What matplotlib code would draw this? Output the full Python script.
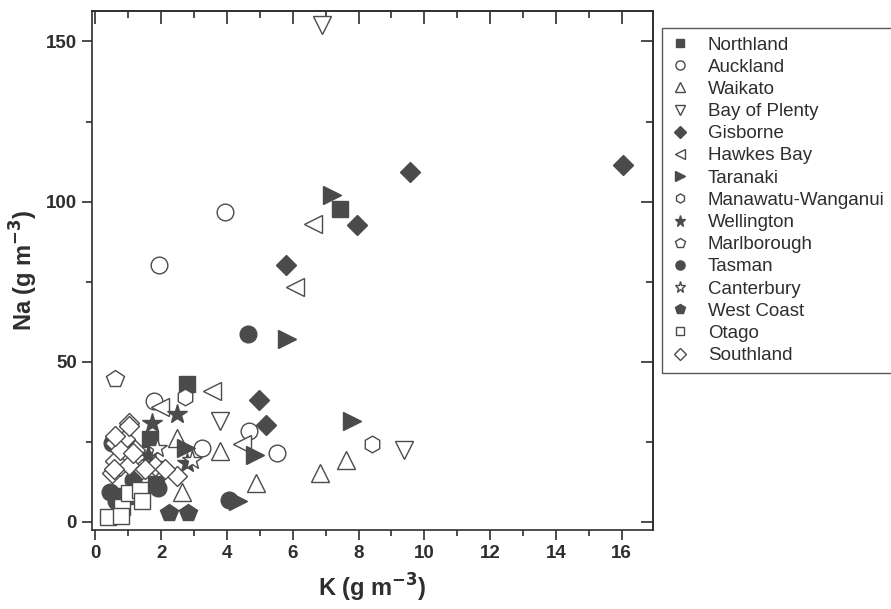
import matplotlib
matplotlib.use('Agg')
import matplotlib.pyplot as plt
from matplotlib.ticker import MultipleLocator

plt.rcParams['font.family'] = ['Liberation Sans', 'DejaVu Sans']

# K (g m-3) and Na (g m-3), per region
northland_k = [7.44, 2.78, 1.67, 1.85, 0.9]
northland_na = [97.8, 43.0, 25.8, 12.0, 8.0]
auckland_k = [3.93, 1.94, 1.77, 4.68, 5.52, 3.25]
auckland_na = [96.7, 80.3, 37.8, 28.4, 21.6, 23.0]
waikato_k = [7.61, 6.83, 4.89, 3.79, 2.48, 2.65]
waikato_na = [19.5, 15.3, 12.2, 22.1, 26.3, 9.3]
bop_k = [6.9, 9.38, 3.79]
bop_na = [155.2, 22.6, 31.5]
gisborne_k = [16.05, 9.56, 7.94, 5.8, 4.99, 5.19]
gisborne_na = [111.5, 109.3, 92.7, 80.1, 38.2, 30.3]
hawkes_k = [6.63, 6.07, 3.54, 4.45, 1.97]
hawkes_na = [93.1, 73.2, 41.0, 24.2, 35.8]
taranaki_k = [7.18, 5.82, 7.79, 4.86, 4.35, 2.75]
taranaki_na = [102.1, 57.2, 31.5, 20.8, 6.4, 23.0]
manawatu_k = [8.4, 2.73]
manawatu_na = [24.2, 38.9]
wellington_k = [2.48, 1.72, 2.78, 1.6]
wellington_na = [33.6, 31.0, 18.5, 21.0]
marlborough_k = [0.61]
marlborough_na = [44.7]
tasman_k = [4.64, 4.05, 0.5, 0.45, 0.62, 1.9, 1.15]
tasman_na = [58.8, 6.9, 24.8, 9.5, 6.5, 10.5, 13.0]
canterbury_k = [1.87, 1.82, 2.95]
canterbury_na = [23.2, 18.0, 19.5]
westcoast_k = [2.23, 2.83]
westcoast_na = [2.7, 2.7]
otago_k = [0.4, 0.81, 1.01, 1.37, 1.42, 0.78]
otago_na = [1.7, 4.8, 9.0, 10.0, 6.4, 2.0]
southland_k = [0.5, 0.76, 1.42, 1.82, 1.01, 0.61, 0.91, 1.21, 0.61, 1.01,
               1.01, 0.76, 1.16, 1.52, 0.56, 2.48, 2.12, 0.61]
southland_na = [15.3, 17.4, 16.4, 17.4, 31.0, 24.7, 25.8, 22.6, 19.0, 17.9,
                30.0, 22.6, 21.6, 16.4, 16.4, 14.3, 16.4, 26.8]

dark = '#4b4b4b'
ink = '#2e2e2e'

# name, k, na, marker, filled, size
series = [
    ('Northland', northland_k, northland_na, 's', True, 11.5),
    ('Auckland', auckland_k, auckland_na, 'o', False, 12),
    ('Waikato', waikato_k, waikato_na, '^', False, 13),
    ('Bay of Plenty', bop_k, bop_na, 'v', False, 13),
    ('Gisborne', gisborne_k, gisborne_na, 'D', True, 10.5),
    ('Hawkes Bay', hawkes_k, hawkes_na, '<', False, 13),
    ('Taranaki', taranaki_k, taranaki_na, '>', True, 13),
    ('Manawatu-Wanganui', manawatu_k, manawatu_na, 'h', False, 12),
    ('Wellington', wellington_k, wellington_na, '*', True, 15),
    ('Marlborough', marlborough_k, marlborough_na, 'p', False, 13),
    ('Tasman', tasman_k, tasman_na, 'o', True, 12),
    ('Canterbury', canterbury_k, canterbury_na, '*', False, 15),
    ('West Coast', westcoast_k, westcoast_na, 'p', True, 13),
    ('Otago', otago_k, otago_na, 's', False, 11.5),
    ('Southland', southland_k, southland_na, 'D', False, 10.5),
]

fig = plt.figure(figsize=(8.91, 6.09), dpi=100)
ax = fig.add_axes([92 / 891, 1 - 530 / 609, 561 / 891, 519 / 609])

for name, k, na, mk, filled, ms in series:
    ax.plot(k, na, linestyle='none', marker=mk, markersize=ms,
            markerfacecolor=dark if filled else 'white',
            markeredgecolor=dark, markeredgewidth=1.0, label=name)

ax.set_xlim(-0.1, 16.95)
ax.set_ylim(-2.5, 159.5)

ax.xaxis.set_major_locator(MultipleLocator(2))
ax.xaxis.set_minor_locator(MultipleLocator(1))
ax.yaxis.set_major_locator(MultipleLocator(50))
ax.yaxis.set_minor_locator(MultipleLocator(25))
ax.tick_params(which='major', direction='out', length=7, width=1.2, colors=ink,
               labelsize=13.5, pad=4)
ax.tick_params(which='minor', direction='out', length=4, width=1.2, colors=ink)
for lab in ax.get_xticklabels() + ax.get_yticklabels():
    lab.set_fontweight('bold')

# top and right ticks point into the plot
top = ax.secondary_xaxis('top')
top.xaxis.set_major_locator(MultipleLocator(2))
top.xaxis.set_minor_locator(MultipleLocator(1))
top.tick_params(which='major', direction='in', length=9, width=1.2, colors=ink, labeltop=False)
top.tick_params(which='minor', direction='in', length=5, width=1.2, colors=ink)
right = ax.secondary_yaxis('right')
right.yaxis.set_major_locator(MultipleLocator(50))
right.yaxis.set_minor_locator(MultipleLocator(25))
right.tick_params(which='major', direction='in', length=9, width=1.2, colors=ink, labelright=False)
right.tick_params(which='minor', direction='in', length=5, width=1.2, colors=ink)

for sp in list(ax.spines.values()) + [top.spines['top'], right.spines['right']]:
    sp.set_linewidth(1.2)
    sp.set_color(ink)

ax.set_xlabel('K (g m$^{\\mathbf{-3}}$)', fontsize=17, fontweight='bold', color=ink, labelpad=7)
ax.set_ylabel('Na (g m$^{\\mathbf{-3}}$)', fontsize=17, fontweight='bold', color=ink, labelpad=4)

leg = fig.legend(loc='upper left', bbox_to_anchor=(662 / 891, 1 - 28 / 609),
                 frameon=True, fancybox=False, fontsize=13.5, markerscale=0.55,
                 labelspacing=0.27, handlelength=1.0, handletextpad=1.0,
                 borderpad=0.45, borderaxespad=0)
leg.get_frame().set_edgecolor(ink)
leg.get_frame().set_linewidth(1.0)
for t in leg.get_texts():
    t.set_color(ink)

fig.savefig('out.png', dpi=100)
